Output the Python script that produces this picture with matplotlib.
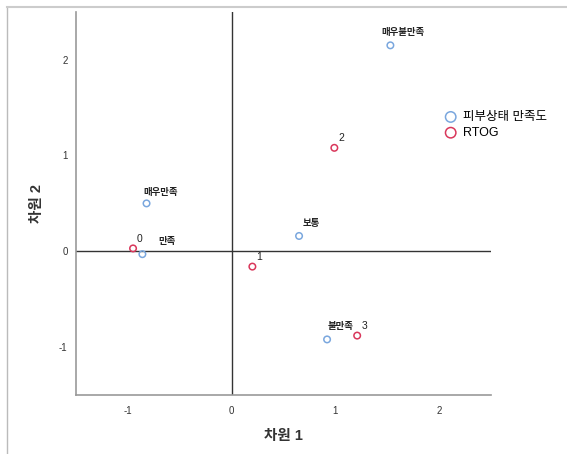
import numpy as np
import matplotlib
matplotlib.use('Agg')
import matplotlib.pyplot as plt
from matplotlib.lines import Line2D

plt.rcParams['font.family'] = ['Liberation Sans', 'Noto Sans CJK KR']
plt.rcParams['axes.unicode_minus'] = False

# 피부상태 만족도 (column points)
skin_labels = ['매우불만족', '매우만족', '만족', '보통', '불만족']
skin_x = [1.53, -0.82, -0.86, 0.65, 0.92]
skin_y = [2.15, 0.50, -0.03, 0.16, -0.92]

# RTOG (row points)
rtog_labels = ['0', '1', '2', '3']
rtog_x = [-0.95, 0.20, 0.99, 1.21]
rtog_y = [0.03, -0.16, 1.08, -0.88]

blue = '#7aa7de'
red = '#d9375b'

fig = plt.figure(figsize=(5.67, 4.54), dpi=100)
ax = fig.add_axes([0.134, 0.130, 0.732, 0.844])

ax.axhline(0, color='#333333', lw=1.0, zorder=1)
ax.axvline(0, color='#333333', lw=1.0, zorder=1)

ax.scatter(skin_x, skin_y, s=22, facecolors='none', edgecolors=blue, linewidths=1.1,
           zorder=3, label='피부상태 만족도')
ax.scatter(rtog_x, rtog_y, s=22, facecolors='none', edgecolors=red, linewidths=1.1,
           zorder=3, label='RTOG')

# label offsets in points
skin_off = [(9, 9), (10, 8), (18, 9), (9, 9), (10, 9)]
for lab, x, y, off in zip(skin_labels, skin_x, skin_y, skin_off):
    ax.annotate(lab, (x, y), xytext=off, textcoords='offset points',
                ha='center', va='center', fontsize=6.8, fontweight='bold',
                color='#222222')
for lab, x, y in zip(rtog_labels, rtog_x, rtog_y):
    ax.annotate(lab, (x, y), xytext=(5, 7), textcoords='offset points',
                ha='center', va='center', fontsize=7.5, color='#222222')

ax.set_xlim(-1.5, 2.5)
ax.set_ylim(-1.5, 2.5)
ax.set_xticks([-1, 0, 1, 2])
ax.set_yticks([-1, 0, 1, 2])
ax.tick_params(length=0, labelsize=7, colors='#333333')
ax.tick_params(axis='x', pad=8)
ax.tick_params(axis='y', pad=6)

for s in ['top', 'right']:
    ax.spines[s].set_visible(False)
for s in ['left', 'bottom']:
    ax.spines[s].set_color('#999999')
    ax.spines[s].set_linewidth(1.2)

fig.text(283/567, 1 - 436/454, '차원 1', fontsize=10.5, fontweight='bold',
         color='#333333', ha='center', va='center')
fig.text(37/567, 1 - 204/454, '차원 2', fontsize=10.5, fontweight='bold',
         color='#333333', ha='center', va='center', rotation=90)

fig.legend(loc='upper left', bbox_to_anchor=(0.764, 0.766), frameon=False,
           fontsize=9, handletextpad=0.0, labelspacing=0.3, markerscale=1.6,
           borderaxespad=0)

# frame lines of the original screenshot
fig.add_artist(Line2D([7/567, 7/567], [0, 1 - 7/454], color='#bbbbbb', lw=1.0))
fig.add_artist(Line2D([7/567, 1], [1 - 7/454, 1 - 7/454], color='#cccccc', lw=1.5))

fig.savefig('out.png', dpi=100)
